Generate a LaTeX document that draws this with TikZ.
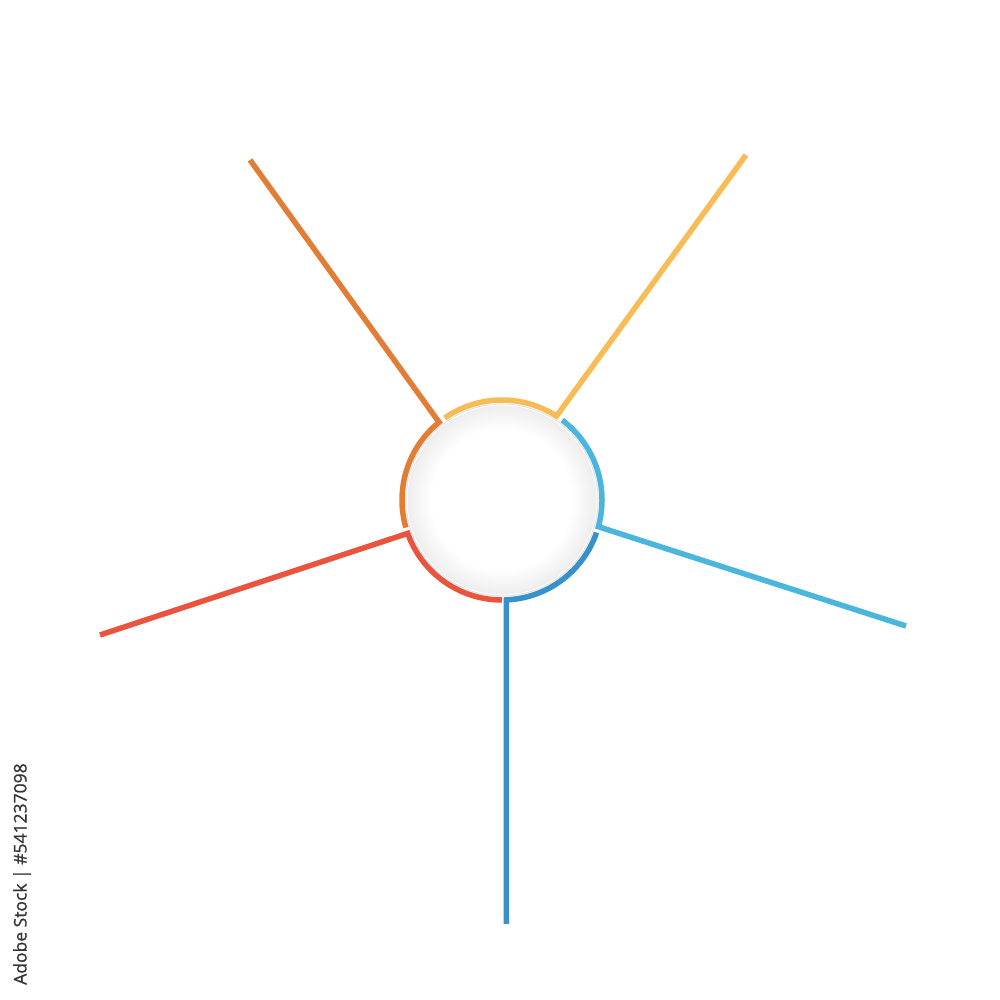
\documentclass[tikz,border=0pt]{standalone}
\usepackage{fontspec}
\newfontfamily\wmfont[FakeBold=0.8]{Open Sans}
\usetikzlibrary{calc}
\definecolor{cOrange}{HTML}{E27D35}
\definecolor{cYellow}{HTML}{F7BC55}
\definecolor{cCyan}{HTML}{4AB6DE}
\definecolor{cBlue}{HTML}{3891CA}
\definecolor{cRed}{HTML}{E9543F}
\definecolor{wmgray}{HTML}{333333}
\tikzset{
  spoke/.style={line width=5.5pt, line cap=butt, line join=miter, miter limit=20},
}
\begin{document}
\begin{tikzpicture}[x=1pt,y=1pt]
\useasboundingbox (0,0) rectangle (1000,1000);
\fill[white] (0,0) rectangle (1000,1000);
\coordinate (c) at (502,500);
% outer ends
\coordinate (oEnd) at (250,840);
\coordinate (yEnd) at (746,845);
\coordinate (cEnd) at (906,374);
\coordinate (rEnd) at (100,365);
% corners on the ring
\coordinate (oCorner) at ($(c)+(129:100)$);
\coordinate (yCorner) at ($(c)+(57:100)$);
\coordinate (cCorner) at ($(c)+(-15.5:100)$);
\coordinate (bCorner) at ($(c)+(-87.5:100)$);
\coordinate (rCorner) at ($(c)+(-160.5:100)$);
\coordinate (bEnd) at ($(bCorner)+(0,-324)$);
% central disk
\fill[gray!25] (c) circle[radius=96.5];
\fill[white] (c) circle[radius=95.5];
\foreach \i in {0,...,24}{
  \pgfmathsetmacro{\rr}{94.5-\i}
  \pgfmathsetmacro{\gg}{13-0.54*\i}
  \fill[fill=gray!\gg!white] (c) circle[radius=\rr];
}
\fill[white] (c) circle[radius=69.5];
% spokes
\draw[spoke, cOrange] (oEnd) -- (oCorner) arc[start angle=129, end angle=196, radius=100];
\draw[spoke, cYellow] (yEnd) -- (yCorner) arc[start angle=57, end angle=125, radius=100];
\draw[spoke, cCyan] (cEnd) -- (cCorner) arc[start angle=-15.5, end angle=53, radius=100];
\draw[spoke, cBlue] (bEnd) -- (bCorner) arc[start angle=-87.5, end angle=-19, radius=100];
\draw[spoke, cRed] (rEnd) -- (rCorner) arc[start angle=-160.5, end angle=-90, radius=100];
% side text
\node[rotate=90, anchor=west, inner sep=0pt, text=wmgray, font=\wmfont\fontsize{17.5}{20}\selectfont] (wm) at (22,15) {Adobe Stock | \#541237098};
\end{tikzpicture}
\end{document}
